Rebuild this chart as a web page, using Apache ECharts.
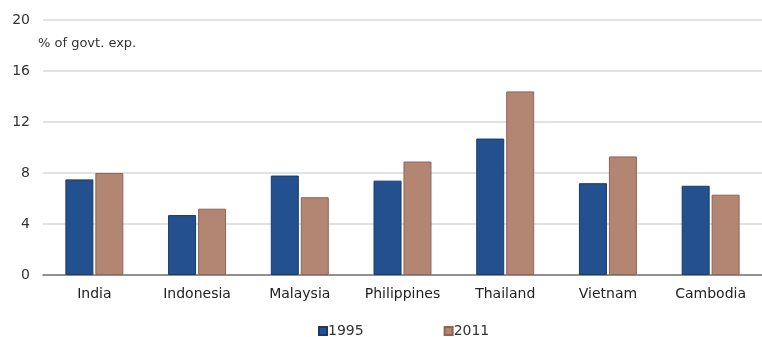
<!DOCTYPE html>
<html lang="en">
<head>
  <meta charset="UTF-8">
  <title>Government expenditure share</title>
  <script src="https://cdn.jsdelivr.net/npm/echarts@6/dist/echarts.min.js"></script>
  <style>
    body { margin: 0; background: #fff; }
  </style>
</head>
<body>
  <div id="main" style="width: 762px;height:337px"></div>
  <script>
    var countries = ['India', 'Indonesia', 'Malaysia', 'Philippines', 'Thailand', 'Vietnam', 'Cambodia'];
    var y1995 = [7.5, 4.7, 7.8, 7.4, 10.7, 7.2, 7.0];
    var y2011 = [8.0, 5.2, 6.1, 8.9, 14.4, 9.3, 6.3];
    var yTicks = [0, 4, 8, 12, 16, 20];

    var myChart = echarts.init(document.getElementById('main'));
    var font = 'DejaVu Sans, sans-serif';
    var option = {
      animation: false,
      textStyle: { fontFamily: font },
      grid: { left: 43, right: 0, top: 20, bottom: 62 },
      legend: {
        data: ['1995', '2011'],
        left: 313,
        top: 319,
        itemWidth: 8,
        itemHeight: 8,
        itemGap: 80,
        icon: 'rect',
        textStyle: { fontSize: 14, color: '#333', fontFamily: font, padding: [0, 0, 0, -4] }
      },
      // unit note under the top gridline
      graphic: [{
        type: 'text',
        left: 38,
        top: 37,
        style: { text: '% of govt. exp.', fontSize: 13, fill: '#333', fontFamily: font }
      }],
      xAxis: {
        type: 'category',
        data: countries,
        axisTick: { show: false },
        axisLine: { lineStyle: { color: '#777', width: 1.5 } },
        axisLabel: { color: '#222', fontSize: 14, margin: 12 }
      },
      yAxis: {
        type: 'value',
        min: yTicks[0],
        max: yTicks[yTicks.length - 1],
        interval: 4,
        axisLine: { show: false },
        axisTick: { show: false },
        splitLine: { lineStyle: { color: '#d9d9d9', width: 1.5 } },
        axisLabel: { color: '#333', fontSize: 14, margin: 13 }
      },
      series: [
        {
          name: '1995',
          type: 'bar',
          data: y1995,
          barWidth: 28,
          barGap: '7%',
          itemStyle: { color: '#23508f', borderColor: '#173a6a', borderWidth: 1 }
        },
        {
          name: '2011',
          type: 'bar',
          data: y2011,
          barWidth: 28,
          itemStyle: { color: '#b38573', borderColor: '#8f6656', borderWidth: 1 }
        }
      ]
    };
    myChart.setOption(option);
  </script>
</body>
</html>
